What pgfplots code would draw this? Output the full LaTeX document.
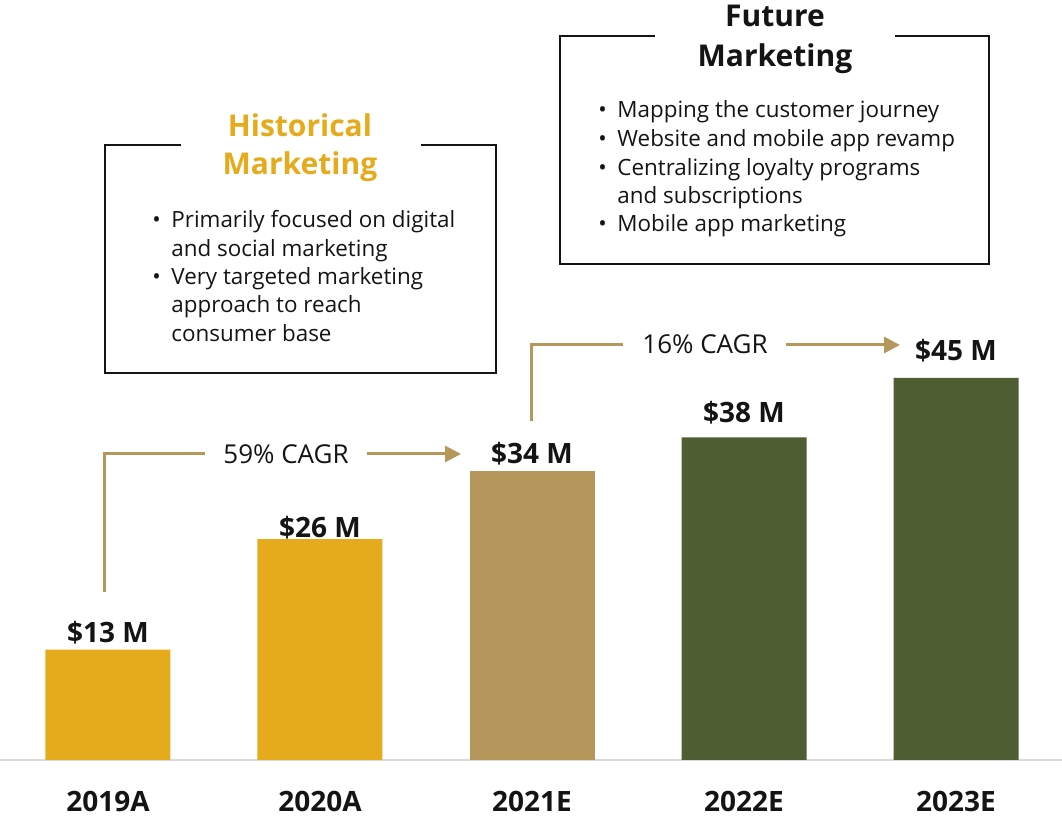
\documentclass[border=0pt]{standalone}
\usepackage{fontspec}
\setmainfont{Open Sans}
\usepackage{pgfplots}
\pgfplotsset{compat=1.18}
\usetikzlibrary{arrows.meta}

\definecolor{gold}{RGB}{230,171,28}
\definecolor{tan}{RGB}{181,150,91}
\definecolor{olive}{RGB}{79,93,51}
\definecolor{axisgray}{RGB}{217,217,217}
\definecolor{ink}{RGB}{20,20,20}

\begin{document}
\begin{tikzpicture}
\useasboundingbox (0,-29pt) rectangle (531pt,380pt);
\begin{axis}[
  at={(0,0)}, anchor=south west,
  width=531pt, height=380pt, scale only axis,
  xmin=-0.5094, xmax=4.5, ymin=0, ymax=89.5,
  axis x line*=bottom, axis y line=none,
  x axis line style={draw=axisgray, line width=1pt, -},
  xtick={0,1,2,3,4},
  xticklabels={2019A,2020A,2021E,2022E,2023E},
  major tick length=0pt,
  xticklabel style={font=\fontsize{14}{14}\selectfont\bfseries, text=ink, anchor=base, yshift=-26pt},
  ybar, bar width=62.5pt, bar shift=0pt,
  clip=false,
]
\addplot[fill=gold, draw=none] coordinates {(0,13) (1,26)};
\addplot[fill=tan, draw=none] coordinates {(2,34)};
\addplot[fill=olive, draw=none] coordinates {(3,38) (4,45)};

% value labels above each bar
\begin{scope}[every node/.style={anchor=base, font=\fontsize{14}{14}\selectfont\bfseries, text=ink, inner sep=0pt}]
\node[yshift=3.5pt] at (axis cs:0,13) {\$13 M};
\node[yshift=1pt]   at (axis cs:1,26) {\$26 M};
\node[yshift=4pt]   at (axis cs:2,34) {\$34 M};
\node[yshift=7.5pt] at (axis cs:3,38) {\$38 M};
\node[yshift=8.5pt] at (axis cs:4,45) {\$45 M};
\end{scope}
\end{axis}

% annotations, laid out on a top-left origin grid
\begin{scope}[x=0.5pt, y=-0.5pt, yshift=380pt]
  % growth arrows
  \begin{scope}[draw=tan, line width=1.5pt]
    \draw (104,592) -- (104,454) -- (205,454);
    \draw[-{Triangle[length=8pt,width=8pt]}] (367,454) -- (461,454);
    \draw (531,421) -- (531,345) -- (623,345);
    \draw[-{Triangle[length=8pt,width=8pt]}] (786,345) -- (900,345);
  \end{scope}
  \node[anchor=base, inner sep=0pt, font=\fontsize{13}{13}\selectfont, text=ink] at (286,464) {59\% CAGR};
  \node[anchor=base, inner sep=0pt, font=\fontsize{13}{13}\selectfont, text=ink] at (705,354) {16\% CAGR};

  % boxes with a gap for the heading
  \draw[ink, line width=0.6pt] (181,145) -- (105,145) -- (105,373) -- (496,373) -- (496,145) -- (421,145);
  \draw[ink, line width=0.6pt] (655,36) -- (560,36) -- (560,264) -- (989,264) -- (989,36) -- (895,36);

  % headings
  \begin{scope}[every node/.style={anchor=base, inner sep=0pt, font=\fontsize{15}{15}\selectfont\bfseries}]
    \node[text=gold] at (300,137) {Historical};
    \node[text=gold] at (300,175) {Marketing};
    \node[text=ink] at (775,27) {Future};
    \node[text=ink] at (775,67) {Marketing};
  \end{scope}

  % bullet text
  \begin{scope}[every node/.style={anchor=base west, inner sep=0pt, font=\fontsize{11.2}{12}\selectfont, text=ink}]
    \node at (152,228) {\textbullet};
    \node at (171,228) {Primarily focused on digital};
    \node at (171,257) {and social marketing};
    \node at (152,285) {\textbullet};
    \node at (171,285) {Very targeted marketing};
    \node at (171,313) {approach to reach};
    \node at (171,342) {consumer base};

    \node at (598,118) {\textbullet};
    \node at (617,118) {Mapping the customer journey};
    \node at (598,147) {\textbullet};
    \node at (617,147) {Website and mobile app revamp};
    \node at (598,176) {\textbullet};
    \node at (617,176) {Centralizing loyalty programs};
    \node at (617,204) {and subscriptions};
    \node at (598,232) {\textbullet};
    \node at (617,232) {Mobile app marketing};
  \end{scope}
\end{scope}
\end{tikzpicture}
\end{document}
